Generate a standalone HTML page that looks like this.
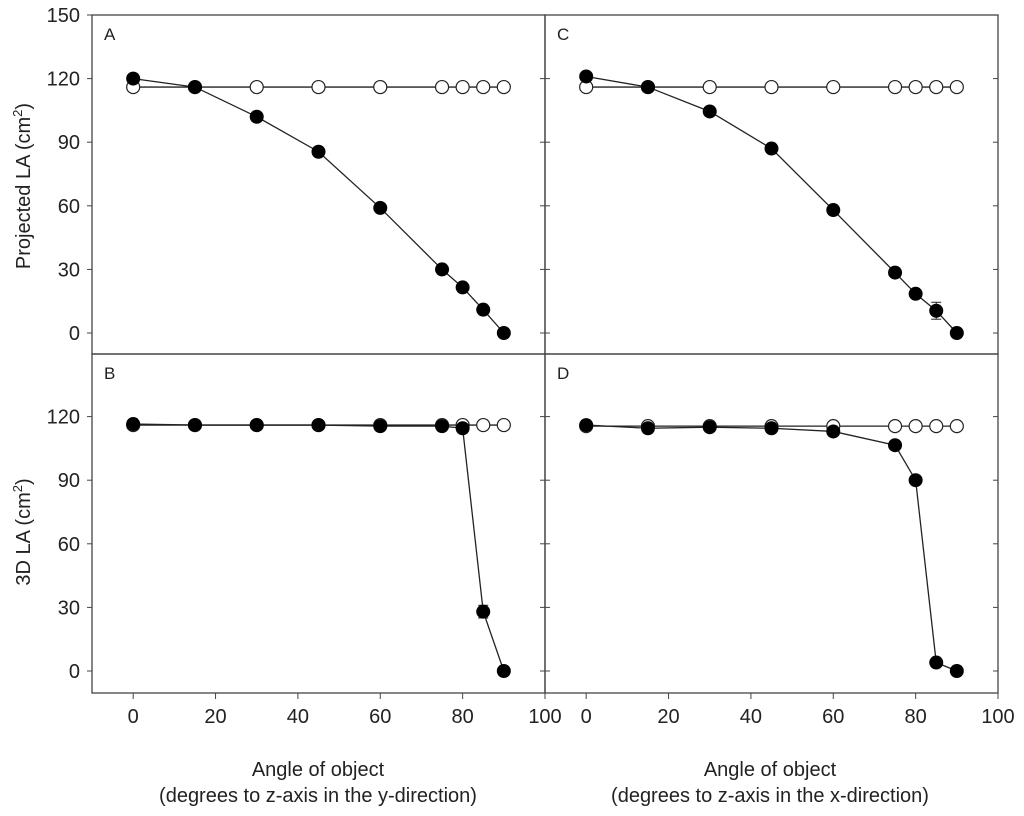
<!DOCTYPE html>
<html><head><meta charset="utf-8"><style>
body{margin:0;background:#fff}
svg{display:block;font-family:"Liberation Sans",sans-serif}
</style></head><body>
<svg id="c" width="1024" height="816"></svg>
<script>
const angles=[0,15,30,45,60,75,80,85,90];
const filledA=[120,116,102,85.5,59,30,21.5,11,0];
const openA=[116,116,116,116,116,116,116,116,116];
const filledC=[121,116,104.5,87,58,28.5,18.5,10.5,0];
const errC=[0,0,0,0,0,0,0,4,0];
const openC=[116,116,116,116,116,116,116,116,116];
const filledB=[116.5,116,116,116,115.5,115.5,114.5,28,0];
const errB=[0,0,0,0,0,0,0,3,0];
const openB=[116,116,116,116,116,116,116,116,116];
const filledD=[116,114.5,115,114.5,113,106.5,90,4,0];
const openD=[115.5,115.5,115.5,115.5,115.5,115.5,115.5,115.5,115.5];
const xTicks=[0,20,40,60,80,100];
const yTicks=[0,30,60,90,120,150];
const yTicksB=[0,30,60,90,120];
const NS="http://www.w3.org/2000/svg";
const svg=document.getElementById('c');
function el(t,a,p){const e=document.createElementNS(NS,t);for(const k in a)e.setAttribute(k,a[k]);(p||svg).appendChild(e);return e;}
const panels=[
 {id:'A',x0:92,x1:545,y0:15,y1:354,zero:333,f:filledA,o:openA,e:null},
 {id:'C',x0:545,x1:998,y0:15,y1:354,zero:333,f:filledC,o:openC,e:errC},
 {id:'B',x0:92,x1:545,y0:354,y1:693,zero:671,f:filledB,o:openB,e:errB},
 {id:'D',x0:545,x1:998,y0:354,y1:693,zero:671,f:filledD,o:openD,e:null}];
panels.forEach(p=>{
 const g=el('g',{});
 
 
 const X=v=>p.x0+(v+10)*(p.x1-p.x0)/110;
 const Y=v=>p.zero-v*(318/150);
 el('rect',{x:p.x0,y:p.y0,width:p.x1-p.x0,height:p.y1-p.y0,fill:'none',stroke:'#444','stroke-width':1.3},g);
 const lab=el('text',{x:p.x0+12,y:p.y0+25,'font-size':17,fill:'#222'},g);lab.textContent=p.id;
 const top=p.y0<300;
 const ticks=top?yTicks:yTicksB;
 ticks.forEach(t=>{
  const y=Y(t);
  el('line',{x1:p.x0,x2:p.x0+(p.x0<100?-5:5),y1:y,y2:y,stroke:'#444'},g);
  el('line',{x1:p.x1,x2:p.x1-5,y1:y,y2:y,stroke:'#444'},g);
  if(p.x0<100){const t2=el('text',{x:p.x0-12,y:y+7,'font-size':20,'text-anchor':'end',fill:'#222'},g);t2.textContent=t;}
 });
 if(!top){xTicks.forEach(t=>{const x=X(t);el('line',{x1:x,x2:x,y1:p.y1,y2:p.y1+6,stroke:'#444'},g);
  const t2=el('text',{x:x,y:p.y1+30,'font-size':20,'text-anchor':'middle',fill:'#222'},g);t2.textContent=t;});}
 el('polyline',{points:angles.map((a,i)=>X(a)+','+Y(p.o[i])).join(' '),fill:'none',stroke:'#222','stroke-width':1.3},g);
 angles.forEach((a,i)=>{const c=el('circle',{cx:X(a),cy:Y(p.o[i]),r:6.5,fill:'#fff',stroke:'#222','stroke-width':1.2},g);
  });
 el('polyline',{points:angles.map((a,i)=>X(a)+','+Y(p.f[i])).join(' '),fill:'none',stroke:'#222','stroke-width':1.3},g);
 angles.forEach((a,i)=>{
  if(p.e&&p.e[i]){el('line',{x1:X(a),x2:X(a),y1:Y(p.f[i]-p.e[i]),y2:Y(p.f[i]+p.e[i]),stroke:'#222'},g);
   [p.f[i]-p.e[i],p.f[i]+p.e[i]].forEach(v=>el('line',{x1:X(a)-5,x2:X(a)+5,y1:Y(v),y2:Y(v),stroke:'#222'},g));}
  const c=el('circle',{cx:X(a),cy:Y(p.f[i]),r:7,fill:'#000'},g);
  });
});
function txt(s,a,name){const t=el('text',a);t.textContent=s;return t;}
txt('Angle of object',{x:318,y:776,'font-size':20,'text-anchor':'middle',fill:'#222'},'x-axis-title-left');
txt('(degrees to z-axis in the y-direction)',{x:318,y:802,'font-size':20,'text-anchor':'middle',fill:'#222'},'x-axis-subtitle-left');
txt('Angle of object',{x:770,y:776,'font-size':20,'text-anchor':'middle',fill:'#222'},'x-axis-title-right');
txt('(degrees to z-axis in the x-direction)',{x:770,y:802,'font-size':20,'text-anchor':'middle',fill:'#222'},'x-axis-subtitle-right');
const y1=el('text',{x:0,y:0,'font-size':20,'text-anchor':'middle',fill:'#222',transform:'translate(30,186) rotate(-90)'});

y1.innerHTML='Projected LA (cm<tspan dy="-8" font-size="13">2</tspan><tspan dy="8">)</tspan>';
const y2=el('text',{x:0,y:0,'font-size':20,'text-anchor':'middle',fill:'#222',transform:'translate(30,532) rotate(-90)'});

y2.innerHTML='3D LA (cm<tspan dy="-8" font-size="13">2</tspan><tspan dy="8">)</tspan>';
</script>
</body></html>
